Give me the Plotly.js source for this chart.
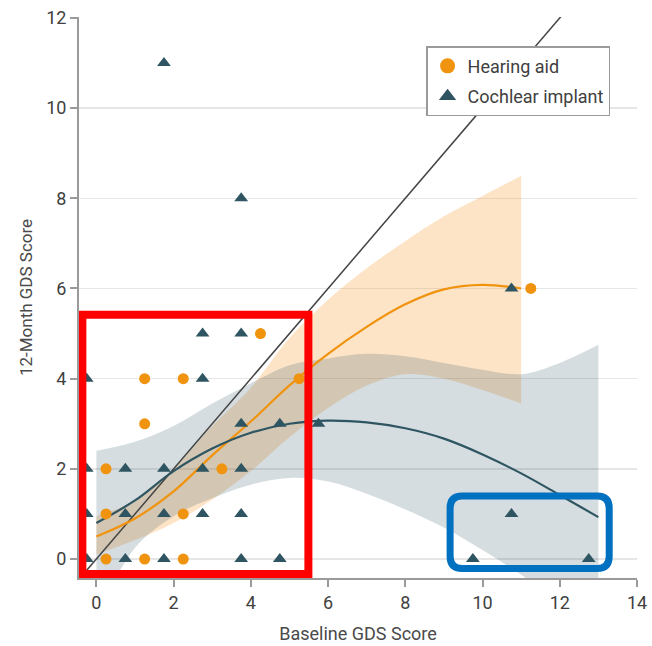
<!DOCTYPE html>
<html>
<head>
<meta charset="utf-8">
<script src="https://cdn.plot.ly/plotly-3.0.1.min.js"></script>
<style>html,body{margin:0;padding:0;background:#fff;}#chart{width:652px;height:646px;}</style>
</head>
<body>
<div id="chart"></div>
<script>
// Hearing aid (jittered baseline, 12-month)
const haX = [4.25, 1.25, 2.25, 5.25, 1.25, 0.25, 3.25, 0.25, 2.25, 0.25, 1.25, 2.25, 11.25];
const haY = [5, 4, 4, 4, 3, 2, 2, 1, 1, 0, 0, 0, 6];
// Cochlear implant
const ciX = [1.75, 3.75, 10.75, 2.75, 3.75, -0.25, 2.75, 3.75, 4.75, 5.75,
             -0.25, 0.75, 1.75, 2.75, 3.75,
             -0.25, 0.75, 1.75, 2.75, 3.75, 10.75,
             -0.25, 0.75, 1.75, 3.75, 4.75, 9.75, 12.75];
const ciY = [11, 8, 6, 5, 5, 4, 4, 3, 3, 3,
             2, 2, 2, 2, 2,
             1, 1, 1, 1, 1, 1,
             0, 0, 0, 0, 0, 0, 0];
// Fitted curves and confidence bands
const haFitX = [0, 1, 2, 3, 4, 5, 6, 7, 8, 9, 10, 11];
const haFit  = [0.5, 0.9, 1.5, 2.3, 3.05, 3.85, 4.55, 5.15, 5.65, 5.98, 6.08, 6.0];
const haUpper = [0.95, 1.3, 2.0, 2.95, 3.8, 4.9, 5.75, 6.45, 7.05, 7.6, 8.05, 8.5];
const haLower = [0.1, 0.42, 0.8, 1.32, 1.95, 2.7, 3.35, 3.85, 4.1, 4.0, 3.75, 3.45];
const ciFitX = [0, 1, 2, 3, 4, 5, 6, 7, 8, 9, 10, 11, 12, 13];
const ciFit  = [0.8, 1.3, 1.95, 2.45, 2.8, 3.0, 3.07, 3.03, 2.9, 2.67, 2.32, 1.9, 1.42, 0.93];
const ciUpper = [2.4, 2.6, 2.95, 3.45, 3.9, 4.3, 4.45, 4.55, 4.5, 4.35, 4.2, 4.1, 4.35, 4.75];
const ciLower = [-1.3, 0.25, 0.95, 1.35, 1.65, 1.8, 1.72, 1.45, 1.1, 0.7, 0.2, -0.35, -1.0, -1.7];
const refX = [-0.25, 12.2];
const refY = [-0.25, 12.2];

const ORANGE = '#F0930E';
const TEAL = '#2E5561';

const traces = [
  { x: haFitX, y: haLower, type: 'scatter', mode: 'lines',
    line: { width: 0, shape: 'spline' }, showlegend: false, hoverinfo: 'skip' },
  { x: haFitX, y: haUpper, type: 'scatter', mode: 'lines', fill: 'tonexty',
    fillcolor: 'rgba(247,148,30,0.25)', line: { width: 0, shape: 'spline' },
    showlegend: false, hoverinfo: 'skip' },
  { x: ciFitX, y: ciLower, type: 'scatter', mode: 'lines',
    line: { width: 0, shape: 'spline' }, showlegend: false, hoverinfo: 'skip' },
  { x: ciFitX, y: ciUpper, type: 'scatter', mode: 'lines', fill: 'tonexty',
    fillcolor: 'rgba(47,87,99,0.2)', line: { width: 0, shape: 'spline' },
    showlegend: false, hoverinfo: 'skip' },
  { x: refX, y: refY, type: 'scatter', mode: 'lines',
    line: { color: '#444', width: 1.5 }, showlegend: false },
  { x: haFitX, y: haFit, type: 'scatter', mode: 'lines',
    line: { color: ORANGE, width: 2.2, shape: 'spline' }, showlegend: false },
  { x: ciFitX, y: ciFit, type: 'scatter', mode: 'lines',
    line: { color: TEAL, width: 2.2, shape: 'spline' }, showlegend: false },
  { x: haX, y: haY, type: 'scatter', mode: 'markers', name: 'Hearing aid',
    marker: { symbol: 'circle', size: 11, color: ORANGE }, showlegend: false },
  { x: ciX, y: ciY, type: 'scatter', mode: 'markers', name: 'Cochlear implant',
    marker: { symbol: 'triangle-up', size: 12, color: TEAL }, showlegend: false },
  { x: [null], y: [null], type: 'scatter', mode: 'markers', name: 'Hearing aid',
    marker: { symbol: 'circle', size: 15, color: ORANGE }, legendgroup: 'a' },
  { x: [null], y: [null], type: 'scatter', mode: 'markers', name: 'Cochlear implant',
    marker: { symbol: 'triangle-up', size: 15, color: TEAL }, legendgroup: 'b' }
];

const x0 = -0.363, x1 = 5.49, y0 = -0.33, y1 = 5.42;
const bx0 = 9.16, bx1 = 13.28, by0 = -0.21, by1 = 1.40, rx = 0.31, ry = 0.27;
const roundPath = `M ${bx0+rx},${by0} L ${bx1-rx},${by0} Q ${bx1},${by0} ${bx1},${by0+ry} L ${bx1},${by1-ry} Q ${bx1},${by1} ${bx1-rx},${by1} L ${bx0+rx},${by1} Q ${bx0},${by1} ${bx0},${by1-ry} L ${bx0},${by0+ry} Q ${bx0},${by0} ${bx0+rx},${by0} Z`;

const FONT = 'Roboto, "Noto Sans", sans-serif';
const layout = {
  width: 652, height: 646,
  margin: { l: 79, r: 15, t: 17, b: 68 },
  paper_bgcolor: '#fff', plot_bgcolor: '#fff',
  font: { family: FONT, color: '#4a4a4a', size: 18 },
  xaxis: {
    range: [-0.45, 14], tickvals: [0, 2, 4, 6, 8, 10, 12, 14],
    showgrid: false, zeroline: false, showline: true, linecolor: '#9a9a9a', linewidth: 2,
    ticks: 'outside', ticklen: 7, tickwidth: 2, tickcolor: '#9a9a9a',
    tickfont: { size: 18, color: '#404040' },
    title: { text: 'Baseline GDS Score', font: { size: 18, color: '#4a4a4a' }, standoff: 16 }
  },
  yaxis: {
    range: [-0.42, 12.02], tickvals: [0, 2, 4, 6, 8, 10, 12],
    showgrid: true, gridcolor: '#e6e6e6', gridwidth: 1.5, zeroline: false,
    showline: true, linecolor: '#9a9a9a', linewidth: 2,
    ticks: 'outside', ticklen: 7, tickwidth: 2, tickcolor: '#9a9a9a',
    tickfont: { size: 18, color: '#404040' },
    title: { text: '12-Month GDS Score', font: { size: 17, color: '#4a4a4a' }, standoff: 9 }
  },
  legend: {
    x: 0.622, y: 0.948, xanchor: 'left', yanchor: 'top',
    bgcolor: '#fff', bordercolor: '#9a9a9a', borderwidth: 1.5,
    font: { size: 18, color: '#404040' }, traceorder: 'grouped', tracegroupgap: 4
  },
  shapes: [
    { type: 'rect', xref: 'x', yref: 'y', x0: x0, x1: x1, y0: y0, y1: y1,
      line: { color: '#FF0000', width: 8 }, layer: 'above' },
    { type: 'path', xref: 'x', yref: 'y', path: roundPath,
      line: { color: '#0070C0', width: 7 }, layer: 'above' }
  ],
  showlegend: true
};

Plotly.newPlot('chart', traces, layout, { displayModeBar: false, staticPlot: true });
</script>
</body>
</html>
